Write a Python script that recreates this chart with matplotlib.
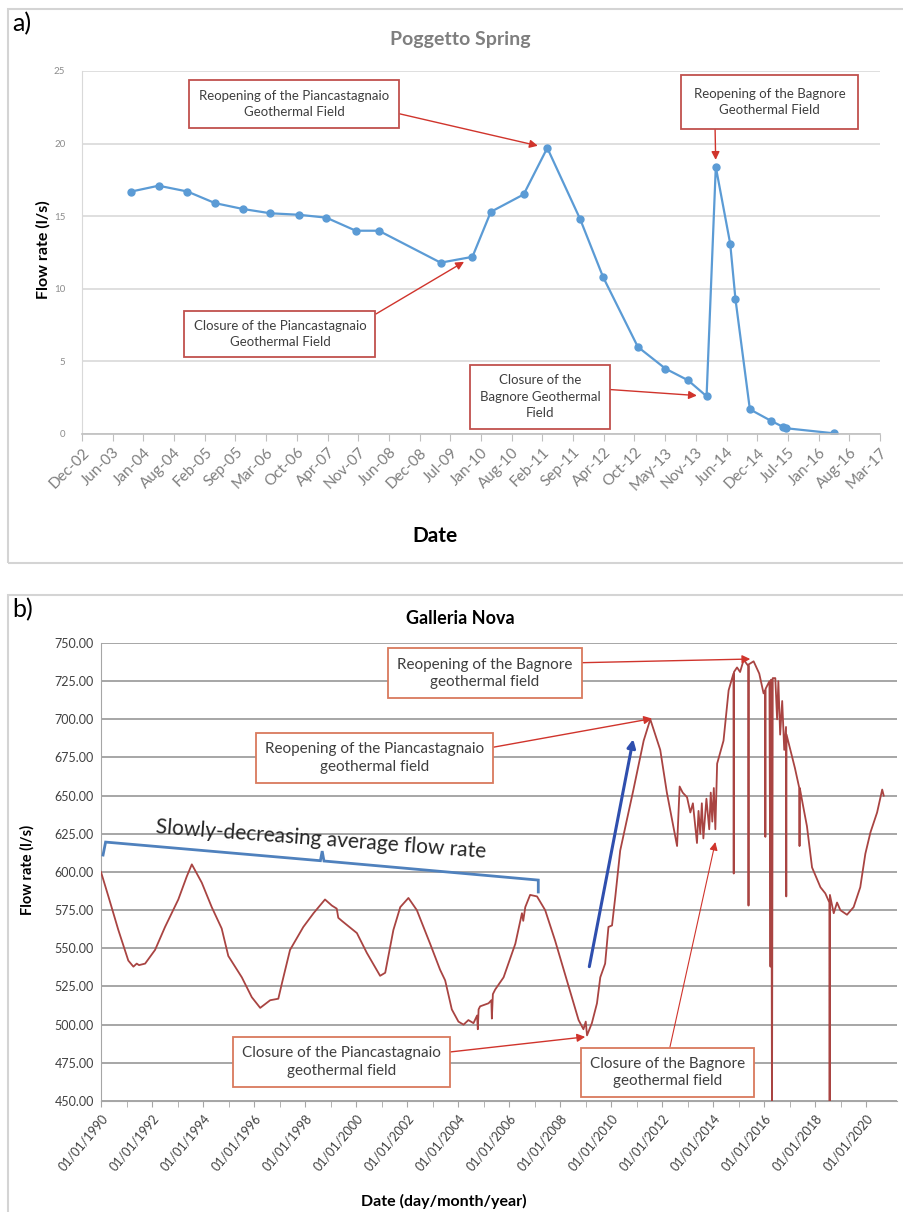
import matplotlib
matplotlib.use('Agg')
import matplotlib.pyplot as plt
import matplotlib.ticker as mticker
import numpy as np
from matplotlib.patches import Rectangle

plt.rcParams['font.family'] = ['Lato', 'DejaVu Sans']

# a) Poggetto Spring - spot measurements
pog_dates = np.array(['2003-10-28', '2004-04-22', '2004-10-27', '2005-04-25', '2005-10-22',
                      '2006-04-21', '2006-10-22', '2007-04-20', '2007-10-29', '2008-03-27',
                      '2009-05-04', '2009-11-27', '2010-03-27', '2010-10-27', '2011-03-30',
                      '2011-10-30', '2012-03-28', '2012-11-09', '2013-05-08', '2013-10-02',
                      '2014-01-31', '2014-04-01', '2014-07-04', '2014-08-07', '2014-11-09',
                      '2015-03-28', '2015-06-11', '2015-06-30', '2016-05-07'], dtype='datetime64[D]')
pog_flow = [16.7, 17.1, 16.7, 15.9, 15.5, 15.2, 15.1, 14.9, 14.0, 14.0,
            11.8, 12.2, 15.3, 16.5, 19.7, 14.8, 10.8, 6.0, 4.5, 3.7,
            2.6, 18.4, 13.1, 9.3, 1.7, 0.9, 0.5, 0.4, 0.05]
pog_axis_start = np.datetime64('2002-12-10')
pog_tick_step = 200  # days (Excel date axis major unit)
pog_ticklabels = ['Dec-02', 'Jun-03', 'Jan-04', 'Aug-04', 'Feb-05', 'Sep-05', 'Mar-06',
                  'Oct-06', 'Apr-07', 'Nov-07', 'Jun-08', 'Dec-08', 'Jul-09', 'Jan-10',
                  'Aug-10', 'Feb-11', 'Sep-11', 'Apr-12', 'Oct-12', 'May-13', 'Nov-13',
                  'Jun-14', 'Dec-14', 'Jul-15', 'Jan-16', 'Aug-16', 'Mar-17']
pog_yticks = [0, 5, 10, 15, 20, 25]

# b) Galleria Nova - continuous record (decimal year, l/s)
gn_year = [1990.00, 1990.29, 1990.68, 1991.07, 1991.27, 1991.40, 1991.49, 1991.73, 1992.12, 1992.51,
           1993.03, 1993.36, 1993.56, 1993.95, 1994.34, 1994.73, 1994.99, 1995.52, 1995.91, 1996.24,
           1996.63, 1996.95, 1997.09, 1997.41, 1997.93, 1998.33, 1998.78, 1999.05, 1999.24, 1999.30,
           1999.44, 2000.03, 2000.42, 2000.94, 2001.14, 2001.46, 2001.73, 2002.05, 2002.38, 2002.90,
           2003.29, 2003.49, 2003.75, 2004.01, 2004.21, 2004.40, 2004.60, 2004.74, 2004.77, 2004.80,
           2004.86, 2005.19, 2005.30, 2005.32, 2005.36, 2005.45, 2005.78, 2005.97, 2006.24, 2006.50,
           2006.55, 2006.63, 2006.82, 2007.09, 2007.41, 2007.80, 2008.33, 2008.72, 2008.91, 2009.00,
           2009.05, 2009.24, 2009.44, 2009.57, 2009.76, 2009.89, 2010.03, 2010.16, 2010.35, 2010.87,
           2011.27, 2011.53, 2011.92, 2012.18, 2012.58, 2012.68, 2012.80, 2012.97, 2013.10, 2013.20,
           2013.36, 2013.42, 2013.49, 2013.55, 2013.61, 2013.73, 2013.84, 2013.90, 2013.96, 2014.02,
           2014.08, 2014.15, 2014.40, 2014.60, 2014.79, 2014.80, 2014.81, 2014.93, 2015.05, 2015.19,
           2015.37, 2015.38, 2015.39, 2015.58, 2015.80, 2015.97, 2016.03, 2016.04, 2016.05, 2016.20,
           2016.24, 2016.27, 2016.30, 2016.33, 2016.43, 2016.50, 2016.55, 2016.62, 2016.70, 2016.78,
           2016.85, 2016.86, 2016.87, 2017.02, 2017.20, 2017.37, 2017.38, 2017.39, 2017.50, 2017.67,
           2017.87, 2018.20, 2018.39, 2018.55, 2018.56, 2018.57, 2018.72, 2018.85, 2018.98, 2019.24,
           2019.50, 2019.76, 2019.96, 2020.16, 2020.42, 2020.62, 2020.68]
gn_flow = [600, 584, 562, 542, 538, 540, 539, 540, 549, 564,
           582, 597, 605, 593, 577, 563, 545, 531, 518, 511,
           516, 517, 527, 549, 564, 573, 582, 578, 576, 570,
           568, 560, 547, 532, 534, 562, 577, 583, 575, 553,
           536, 529, 510, 502, 500, 503, 501, 506, 497, 510,
           512, 514, 516, 504, 520, 523, 531, 540, 553, 573,
           568, 577, 585, 584, 575, 555, 525, 503, 497, 502,
           493, 501, 514, 531, 540, 564, 565, 584, 614, 654,
           686, 700, 680, 652, 617, 656, 652, 649, 639, 645,
           619, 640, 625, 645, 622, 648, 628, 652, 633, 655,
           628, 671, 686, 719, 730, 599, 731, 734, 731, 739,
           735, 578, 736, 738, 730, 717, 719, 623, 720, 725,
           538, 726, 430, 727, 727, 700, 725, 690, 712, 680,
           695, 584, 690, 680, 668, 655, 617, 655, 645, 630,
           603, 590, 586, 580, 430, 585, 573, 580, 575, 572,
           577, 590, 612, 626, 639, 654, 650]
gn_ticklabels = ['01/01/1990', '01/01/1992', '01/01/1994', '01/01/1996', '01/01/1998',
                 '01/01/2000', '01/01/2002', '01/01/2004', '01/01/2006', '01/01/2008',
                 '01/01/2010', '01/01/2012', '01/01/2014', '01/01/2016', '01/01/2018',
                 '01/01/2020']

W, H = 904, 1212
fig = plt.figure(figsize=(W / 100, H / 100), dpi=100)
fig.patch.set_facecolor('white')


def px(x, y):
    # pixel position (from top-left) -> figure fraction
    return x / W, 1 - y / H


# panel frames
fig.patches.append(Rectangle(px(8, 563), 1, 554 / H, transform=fig.transFigure,
                             fill=False, ec='#d4d4d4', lw=1.5))
fig.patches.append(Rectangle(px(8, 1230), 1, 635 / H, transform=fig.transFigure,
                             fill=False, ec='#d4d4d4', lw=1.5))

# ---------------- panel a ----------------
ax_a = fig.add_axes([82 / W, 1 - 434 / H, 798 / W, 363 / H])
ax_a.plot(pog_dates, pog_flow, color='#5b9bd5', lw=1.6, marker='o', ms=5,
          mec='#5b9bd5', mfc='#5b9bd5')
ticks_a = pog_axis_start + np.arange(len(pog_ticklabels)) * np.timedelta64(pog_tick_step, 'D')
ax_a.set_xlim(ticks_a[0], ticks_a[-1])
ax_a.set_xticks(ticks_a)
ax_a.set_xticklabels(pog_ticklabels, rotation=45, ha='right', rotation_mode='anchor',
                     fontsize=11, color='#7f7f7f')
ax_a.set_ylim(0, 25)
ax_a.set_yticks(pog_yticks)
ax_a.set_yticklabels([str(v) for v in pog_yticks], fontsize=7, color='#8c8c8c')
ax_a.tick_params(axis='x', length=5, color='#bfbfbf', pad=3)
ax_a.tick_params(axis='y', length=0, pad=12)
ax_a.yaxis.grid(True, color='#dcdcdc', lw=1.3)
ax_a.set_axisbelow(True)
for s in ['top', 'right']:
    ax_a.spines[s].set_visible(False)
ax_a.spines['left'].set_color('#d9d9d9')
ax_a.spines['bottom'].set_color('#bfbfbf')
ax_a.spines['bottom'].set_linewidth(1.2)

red = '#d0342c'


def note(ax, text, xy, xytext, relpos, fs, ec, pad, ls=1.4, lw=1.0, shrink=0):
    ax.annotate(text, xy=xy, xycoords='data', xytext=xytext, textcoords='axes fraction',
                ha='center', va='center', fontsize=fs, color='#3f3f3f', linespacing=ls,
                bbox=dict(boxstyle='square,pad=%s' % pad, fc='white', ec=ec, lw=1.3),
                arrowprops=dict(arrowstyle='-|>', color=red, lw=lw, relpos=relpos,
                                shrinkA=0, shrinkB=shrink, mutation_scale=12),
                zorder=5)


box_a = '#c0504d'
note(ax_a, 'Reopening of the Piancastagnaio\nGeothermal Field', (pog_dates[14], pog_flow[14]),
     (0.266, 0.909), (1, 0.24), 9.5, box_a, 0.75, ls=1.45, shrink=7)
note(ax_a, 'Reopening of the Bagnore\nGeothermal Field', (pog_dates[21], pog_flow[21]),
     (0.8615, 0.915), (0.14, 0), 9.5, box_a, 0.95, ls=1.45, shrink=5)
note(ax_a, 'Closure of the Piancastagnaio\nGeothermal Field', (pog_dates[11], pog_flow[11]),
     (0.248, 0.2755), (1, 1), 9.5, box_a, 0.7, ls=1.45, shrink=7)
note(ax_a, 'Closure of the\nBagnore Geothermal\nField', (pog_dates[20], pog_flow[20]),
     (0.574, 0.102), (1, 0.68), 9.5, box_a, 0.7, ls=1.45, shrink=7)

fig.text(*px(12, 24), 'a)', fontsize=18, va='center', ha='left')
fig.text(*px(460, 39), 'Poggetto Spring', fontsize=14, fontweight='bold', color='#7f7f7f',
         ha='center', va='center')
fig.text(*px(43, 250), 'Flow rate (l/s)', fontsize=11.5, fontweight='bold', rotation=90,
         ha='center', va='center')
fig.text(*px(435, 536), 'Date', fontsize=15, fontweight='bold', ha='center', va='center')

# ---------------- panel b ----------------
ax_b = fig.add_axes([101 / W, 1 - 1101 / H, 796 / W, 458 / H])
ax_b.plot(gn_year, gn_flow, color='#a94442', lw=1.3, zorder=3)
ax_b.set_xlim(1990, 2021.2)
ax_b.set_ylim(450, 750)
ax_b.yaxis.set_major_locator(mticker.MultipleLocator(25))
ax_b.yaxis.set_major_formatter(mticker.FormatStrFormatter('%.2f'))
ax_b.set_xticks(np.arange(1990, 2021, 2))
ax_b.set_xticks(np.arange(1991, 2021, 2), minor=True)
ax_b.set_xticklabels(gn_ticklabels, rotation=50, ha='right', rotation_mode='anchor',
                     fontsize=9, color='#404040')
ax_b.tick_params(axis='y', labelsize=9, labelcolor='#404040', length=0, pad=5)
ax_b.tick_params(axis='x', which='both', length=4, color='#a6a6a6', pad=4)
ax_b.yaxis.grid(True, color='#a6a6a6', lw=1.4)
ax_b.set_axisbelow(True)
for s in ['top', 'right']:
    ax_b.spines[s].set_visible(False)
ax_b.spines['left'].set_color('#a6a6a6')
ax_b.spines['bottom'].set_color('#a6a6a6')

box_b = '#d9795d'
note(ax_b, 'Reopening of the Bagnore\ngeothermal field', (2015.45, 739.5),
     (0.482, 0.934), (1, 0.83), 11, box_b, 0.6, ls=1.3)
note(ax_b, 'Reopening of the Piancastagnaio\ngeothermal field', (2011.6, 700.5),
     (0.3436, 0.749), (1, 0.79), 11, box_b, 0.6, ls=1.3)
note(ax_b, 'Closure of the Piancastagnaio\ngeothermal field', (2008.98, 492),
     (0.302, 0.085), (1, 0.79), 11, box_b, 0.6, ls=1.3)
note(ax_b, 'Closure of the Bagnore\ngeothermal field', (2014.08, 619.6),
     (0.712, 0.062), (0.5, 1), 11, box_b, 0.6, ls=1.3, lw=0.8)

# blue rising arrow
ax_b.annotate('', xy=(2010.86, 687), xytext=(2009.14, 538), xycoords='data',
              arrowprops=dict(arrowstyle='-|>', color='#2f4fae', lw=2.2, shrinkA=0, shrinkB=0,
                              mutation_scale=12), zorder=6)

# brace over the first part of the record
brace_x = [1990.08, 1990.18, 1998.60, 1998.67, 1998.74, 2007.14, 2007.14]
brace_y = [611.1, 619.6, 607.4, 613.7, 607.2, 594.7, 586.9]
ax_b.plot(brace_x, brace_y, color='#4f81bd', lw=2, zorder=4, solid_joinstyle='miter')
ax_b.text(1998.63, 621.5, 'Slowly-decreasing average flow rate', fontsize=15, rotation=-4.3,
          ha='center', va='center', color='#262626', rotation_mode='anchor')

fig.text(*px(12, 610), 'b)', fontsize=18, va='center', ha='left')
fig.text(*px(460, 619), 'Galleria Nova', fontsize=13, fontweight='bold', ha='center', va='center')
fig.text(*px(27, 870), 'Flow rate (l/s)', fontsize=10.5, fontweight='bold', rotation=90,
         ha='center', va='center')
fig.text(*px(444, 1201), 'Date (day/month/year)', fontsize=11.5, fontweight='bold',
         ha='center', va='center')

fig.savefig('out.png', dpi=100, facecolor='white')
